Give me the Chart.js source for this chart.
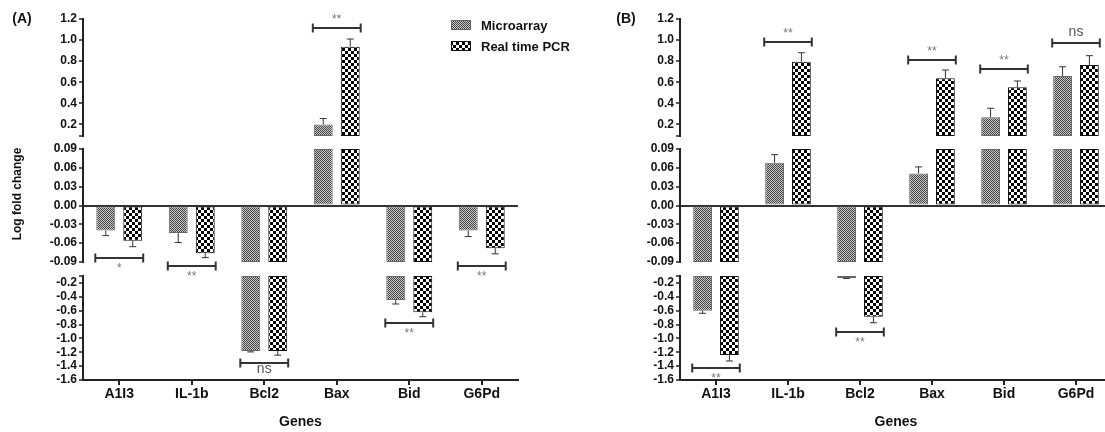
<!DOCTYPE html>
<html><head><meta charset="utf-8">
<script src="https://cdn.jsdelivr.net/npm/chart.js@4.4.1/dist/chart.umd.min.js"></script>
<style>
html,body{margin:0;padding:0;background:#fff;overflow:hidden;width:1105px;height:432px;}
#wrap{position:relative;width:1105px;height:432px;overflow:hidden;background:#fff;}
canvas{position:absolute;top:0;}
#cA{left:0}
#cB{left:570px}
</style></head><body>
<div id="wrap"><canvas id="cA" width="600" height="432"></canvas><canvas id="cB" width="550" height="432"></canvas></div>
<script>
// ---------------- DATA ----------------
const genes = ['A1I3', 'IL-1b', 'Bcl2', 'Bax', 'Bid', 'G6Pd'];
const seriesNames = ['Microarray', 'Real time PCR'];

// Panel (A)
const microA    = [-0.040, -0.044, -1.18, 0.20, -0.446, -0.040];
const microAErr = [0.008, 0.015, 0.015, 0.056, 0.058, 0.0095];
const realA     = [-0.056, -0.076, -1.18, 0.937, -0.624, -0.068];
const realAErr  = [0.0096, 0.007, 0.062, 0.073, 0.063, 0.009];
const sigA      = ['*', '**', 'ns', '**', '**', '**'];
const sigLevelA = [-0.084, -0.0964, -1.359, 1.117, -0.774, -0.0959];

// Panel (B)
const microB    = [-0.60, 0.068, -0.13, 0.051, 0.267, 0.659];
const microBErr = [0.038, 0.013, 0.005, 0.0105, 0.086, 0.088];
const realB     = [-1.24, 0.795, -0.687, 0.637, 0.552, 0.764];
const realBErr  = [0.086, 0.085, 0.087, 0.079, 0.06, 0.088];
const sigB      = ['**', '**', '**', '**', '**', 'ns'];
const sigLevelB = [-1.431, 0.985, -0.912, 0.808, 0.723, 0.975];

// Broken y axis: three segments and their tick labels
const topRange = [0.09, 1.2];
const midRange = [-0.09, 0.09];
const botRange = [-1.6, -0.1];
const topTicks = [1.2, 1.0, 0.8, 0.6, 0.4, 0.2];
const midTicks = [0.09, 0.06, 0.03, 0.00, -0.03, -0.06, -0.09];
const botTicks = [-0.2, -0.4, -0.6, -0.8, -1.0, -1.2, -1.4, -1.6];
const topEndMarks = [0.09];
const botEndMarks = [-0.1];

// ---------------- HELPERS ----------------
const FONT = "'Liberation Sans', Arial, Helvetica, sans-serif";

function makePatterns() {
  const m = document.createElement('canvas'); m.width = 2; m.height = 2;
  const mc = m.getContext('2d');
  mc.fillStyle = '#c8c8c8'; mc.fillRect(0, 0, 2, 2);
  mc.fillStyle = '#444444'; mc.fillRect(0, 0, 1, 1); mc.fillRect(1, 1, 1, 1);
  const r = document.createElement('canvas'); r.width = 6; r.height = 6;
  const rc = r.getContext('2d');
  rc.fillStyle = '#ffffff'; rc.fillRect(0, 0, 6, 6);
  rc.fillStyle = '#000000'; rc.fillRect(0, 0, 3, 3); rc.fillRect(3, 3, 3, 3);
  return [mc.createPattern(m, 'repeat'), rc.createPattern(r, 'repeat')];
}
const PATS = makePatterns();

function segTop(v) { return v > topRange[0] ? [topRange[0], Math.min(v, topRange[1])] : null; }
function segMid(v) { return [0, Math.max(midRange[0], Math.min(midRange[1], v))]; }
function segBot(v) { return v < botRange[1] ? [botRange[1], Math.max(v, botRange[0])] : null; }

function buildDatasets(micro, real) {
  const ds = [];
  [micro, real].forEach((vals, si) => {
    [['yTop', segTop], ['yMid', segMid], ['yBot', segBot]].forEach(([axis, fn]) => {
      ds.push({
        label: seriesNames[si],
        data: vals.map(fn),
        yAxisID: axis,
        stack: si === 0 ? 'micro' : 'real',
        backgroundColor: PATS[si],
        borderColor: si === 0 ? '#666' : '#111',
        borderWidth: 1,
        borderSkipped: false,
        categoryPercentage: 0.745,
        barPercentage: 0.70
      });
    });
  });
  return ds;
}

function segScale(yw, range, labelled, marks, digits, weight, stackWeight, zero) {
  const all = labelled.concat(marks).slice().sort((a, b) => a - b);
  return {
    type: 'linear', axis: 'y', position: 'left', stack: 'ys', stackWeight: stackWeight, weight: weight,
    stacked: false, min: range[0], max: range[1],
    afterBuildTicks: s => { s.ticks = all.map(v => ({ value: v })); },
    afterFit: s => { s.width = yw; },
    ticks: {
      autoSkip: false, padding: 2, color: '#111',
      font: { family: FONT, size: 12, weight: 'bold' },
      callback: v => (marks.includes(v) ? '' : Number(v).toFixed(digits))
    },
    grid: {
      drawOnChartArea: !!zero, drawTicks: true, tickLength: 4, tickColor: '#222', tickWidth: 1.5,
      color: c => (zero && c.tick && c.tick.value === 0) ? '#333' : 'rgba(0,0,0,0)',
      lineWidth: 2
    },
    border: { display: true, color: '#222', width: 2 }
  };
}

function gapScale(yw, weight, stackWeight) {
  return {
    type: 'linear', axis: 'y', position: 'left', display: false, stack: 'ys',
    stackWeight: stackWeight, weight: weight, afterFit: s => { s.width = yw; }
  };
}

function yPix(chart, v) {
  const s = chart.scales;
  if (v > topRange[0]) return s.yTop.getPixelForValue(v);
  if (v > botRange[1]) return s.yMid.getPixelForValue(v);
  return s.yBot.getPixelForValue(v);
}

function annotPlugin(p) {
  return {
    id: 'annot' + p.name,
    afterDatasetsDraw(chart) {
      const ctx = chart.ctx;
      ctx.save();
      // error bars
      [[p.micro, p.microErr], [p.real, p.realErr]].forEach(([vals, errs], si) => {
        const meta = chart.getDatasetMeta(si * 3 + 1);
        vals.forEach((v, i) => {
          const el = meta.data[i];
          const dir = v >= 0 ? 1 : -1;
          const y0 = yPix(chart, v), y1 = yPix(chart, v + dir * errs[i]);
          ctx.strokeStyle = '#333'; ctx.lineWidth = 1;
          ctx.beginPath();
          ctx.moveTo(el.x, y0); ctx.lineTo(el.x, y1);
          ctx.moveTo(el.x - 3.5, y1); ctx.lineTo(el.x + 3.5, y1);
          ctx.stroke();
        });
      });
      // significance brackets
      p.sig.forEach((lab, i) => {
        const a = chart.getDatasetMeta(1).data[i], b = chart.getDatasetMeta(4).data[i];
        const x0 = a.x - a.width / 2 - 1, x1 = b.x + b.width / 2 + 1;
        const y = Math.round(yPix(chart, p.level[i]));
        ctx.strokeStyle = '#333'; ctx.lineWidth = 2;
        ctx.beginPath();
        ctx.moveTo(x0, y); ctx.lineTo(x1, y);
        ctx.moveTo(x0, y - 4.5); ctx.lineTo(x0, y + 4.5);
        ctx.moveTo(x1, y - 4.5); ctx.lineTo(x1, y + 4.5);
        ctx.stroke();
        const above = p.level[i] > 0;
        const isNs = lab === 'ns';
        ctx.font = isNs ? `14px ${FONT}` : `12px ${FONT}`;
        ctx.fillStyle = isNs ? '#555' : '#777';
        ctx.textAlign = 'center'; ctx.textBaseline = 'middle';
        const off = isNs ? (above ? -10.5 : 6.5) : (above ? -8 : 11);
        ctx.fillText(lab, (x0 + x1) / 2, y + off);
      });
      // panel label
      ctx.font = `bold 14px ${FONT}`; ctx.fillStyle = '#111';
      ctx.textAlign = 'center'; ctx.textBaseline = 'middle';
      ctx.fillText(p.name, p.labelX, 19);
      if (p.legend) {
        // y title
        ctx.save();
        ctx.translate(18, 194); ctx.rotate(-Math.PI / 2);
        ctx.font = `bold 12px ${FONT}`; ctx.textAlign = 'center'; ctx.textBaseline = 'middle';
        ctx.fillText('Log fold change', 0, 0);
        ctx.restore();
        // legend
        const lx = 451, rows = [25, 46];
        seriesNames.forEach((nm, si) => {
          const ry = rows[si];
          ctx.fillStyle = PATS[si];
          ctx.fillRect(lx, ry - 5, 20, 10);
          ctx.strokeStyle = si === 0 ? '#666' : '#111'; ctx.lineWidth = 1;
          ctx.strokeRect(lx + 0.5, ry - 4.5, 19, 9);
          ctx.fillStyle = '#111';
          ctx.font = `bold 13px ${FONT}`; ctx.textAlign = 'left'; ctx.textBaseline = 'middle';
          ctx.fillText(nm, lx + 30, ry + 1);
        });
      }
      ctx.restore();
    }
  };
}

function makeChart(id, yw, padRight, p) {
  return new Chart(document.getElementById(id), {
    type: 'bar',
    data: { labels: genes, datasets: buildDatasets(p.micro, p.real) },
    options: {
      responsive: false, animation: false, events: [],
      layout: { padding: { left: 0, right: padRight, top: 19, bottom: 0 } },
      plugins: { legend: { display: false }, tooltip: { enabled: false } },
      scales: {
        x: {
          type: 'category', offset: true,
          afterFit: s => { s.height = 52; },
          grid: { display: true, offset: false, drawOnChartArea: false, drawTicks: true, tickLength: 5, color: '#222', lineWidth: 2 },
          border: { display: true, color: '#222', width: 2 },
          ticks: { padding: 1, color: '#111', font: { family: FONT, size: 14, weight: 'bold' }, maxRotation: 0 },
          title: { display: true, text: 'Genes', color: '#111', font: { family: FONT, size: 14, weight: 'bold' }, padding: { top: 0, bottom: 1 } }
        },
        yTop: segScale(yw, topRange, topTicks, topEndMarks, 1, 5, 117, false),
        gap1: gapScale(yw, 4, 13),
        yMid: segScale(yw, midRange, midTicks, [], 2, 3, 113, true),
        gap2: gapScale(yw, 2, 14),
        yBot: segScale(yw, botRange, botTicks, botEndMarks, 1, 1, 104, false)
      }
    },
    plugins: [annotPlugin(p)]
  });
}

makeChart('cA', 83, 82, {
  name: '(A)', labelX: 22, legend: true,
  micro: microA, microErr: microAErr, real: realA, realErr: realAErr, sig: sigA, level: sigLevelA
});
makeChart('cB', 110, 8, {
  name: '(B)', labelX: 56, legend: false,
  micro: microB, microErr: microBErr, real: realB, realErr: realBErr, sig: sigB, level: sigLevelB
});
</script>
</body></html>
